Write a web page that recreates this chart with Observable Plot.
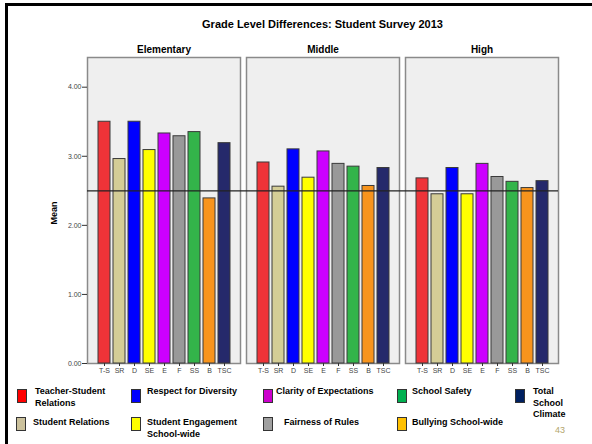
<!DOCTYPE html>
<html>
<head>
<meta charset="utf-8">
<script src="https://cdn.jsdelivr.net/npm/d3@7"></script>
<script src="https://cdn.jsdelivr.net/npm/@observablehq/plot@0.6"></script>
<style>
  html, body { margin: 0; padding: 0; background: #fff; }
  #slide { position: relative; width: 592px; height: 444px; overflow: hidden; background: #fff;
           font-family: "Liberation Sans", Arial, sans-serif; color: #000; }
  #frame { position: absolute; left: 5px; top: 3px; right: 0; bottom: 0;
           border-top: 3px solid #000; border-left: 3px solid #000; }
  #chart { position: absolute; left: 0; top: 0; }
  .abs { position: absolute; white-space: nowrap; }
  #title { left: 0; width: 645px; top: 18px; text-align: center; font-weight: bold; font-size: 11px; }
  #ylabel { left: 54px; top: 213px; transform: translate(-50%, -50%) rotate(-90deg);
            font-weight: bold; font-size: 9px; }
  .sw { position: absolute; width: 10px; height: 14px; box-sizing: border-box; border: 1px solid #333; }
  .lt { position: absolute; font-weight: bold; font-size: 9px; line-height: 11.5px; white-space: nowrap; }
  #page { left: 555px; top: 425px; font-size: 9px; color: #b3a66c; }
</style>
</head>
<body>
<div id="slide">
  <div id="frame"></div>
  <div id="chart"></div>
  <div id="title" class="abs">Grade Level Differences: Student Survey 2013</div>
  <div id="ylabel" class="abs">Mean</div>
  <div id="legend"></div>
  <div id="page" class="abs">43</div>
</div>
<script>
// School levels (panels) and survey scale codes (bars within each panel)
const levels = ["Elementary", "Middle", "High"];
const codes = ["T-S", "SR", "D", "SE", "E", "F", "SS", "B", "TSC"];

// Mean scores per scale, in the order of `codes`
const elementary = [3.50, 2.96, 3.50, 3.09, 3.33, 3.29, 3.35, 2.39, 3.19];
const middle     = [2.91, 2.56, 3.10, 2.69, 3.07, 2.89, 2.85, 2.57, 2.83];
const high       = [2.68, 2.45, 2.83, 2.45, 2.89, 2.70, 2.63, 2.54, 2.64];

// Benchmark line drawn across all panels
const benchmark = 2.5;

// Y axis ticks
const yTicks = [0, 1, 2, 3, 4];

// Bar fill per scale
const barColors = ["#ee3338", "#d4cd96", "#0000ff", "#ffff00", "#cc00ff",
                   "#999999", "#33b44a", "#f7941d", "#25296b"];

// Legend: full scale names and swatch colours, in legend reading order
const legendNames = ["Teacher-Student\nRelations", "Respect for Diversity", "Clarity of Expectations",
                     "School Safety", "Total\nSchool\nClimate",
                     "Student Relations", "Student Engagement\nSchool-wide", "Fairness of Rules",
                     "Bullying School-wide"];
const legendColors = ["#ff0000", "#0000ff", "#cc00cc", "#00b050", "#002060",
                      "#cbc19c", "#ffff00", "#a0a0a0", "#ffc000"];

const series = {Elementary: elementary, Middle: middle, High: high};
const rows = levels.flatMap(level =>
  codes.map((code, i) => ({level, code, value: series[level][i]})));

// Benchmark segments, slightly widened so the line bridges the gaps between panels
const ruleFor = (level, opts) =>
  Plot.ruleY([{level, v: benchmark}], {fx: "level", y: "v", stroke: "#222", strokeWidth: 1.2, ...opts});

const chart = Plot.plot({
  width: 592,
  height: 380,
  marginTop: 57,
  marginBottom: 17,
  marginLeft: 87,
  marginRight: 34,
  style: {fontFamily: "'Liberation Sans', Arial, sans-serif", background: "transparent", color: "#333", overflow: "visible"},
  fx: {domain: levels, paddingInner: 0.038, paddingOuter: 0, label: null},
  x: {domain: codes, paddingInner: 0.216, paddingOuter: 0.608, label: null},
  y: {domain: [0, 4.43], label: null},
  color: {domain: codes, range: barColors},
  marks: [
    Plot.frame({fill: "#efefef", stroke: "#8a8a8a", strokeWidth: 1.5}),
    Plot.barY(rows, {fx: "level", x: "code", y: "value", fill: "code", stroke: "#3a3a3a", strokeWidth: 1}),
    ruleFor("Elementary", {insetRight: -3}),
    ruleFor("Middle", {insetLeft: -3, insetRight: -3}),
    ruleFor("High", {insetLeft: -3}),
    Plot.axisFx({anchor: "top", tickSize: 0, tickPadding: 5, fontSize: 10, fontWeight: "bold", fill: "#000", label: null}),
    Plot.axisX({tickSize: 3, tickPadding: 2, fontSize: 7, fill: "#444", label: null}),
    Plot.axisY({ticks: yTicks, tickFormat: d3.format(".2f"), tickSize: 5, tickPadding: 1, fontSize: 7, fill: "#444", label: null})
  ]
});
document.getElementById("chart").appendChild(chart);

// Legend layout: swatch left, text left, row for each entry
const slots = [
  [17, 35, 0], [131, 147, 0], [263, 276, 0], [397, 412, 0], [515, 533, 0],
  [16, 33, 1], [131, 147, 1], [263, 284, 1], [397, 412, 1]
];
const legend = document.getElementById("legend");
legendNames.forEach((name, i) => {
  const [sx, tx, row] = slots[i];
  const sw = document.createElement("div");
  sw.className = "sw";
  sw.style.left = sx + "px";
  sw.style.top = (row ? 417 : 389) + "px";
  sw.style.background = legendColors[i];
  legend.appendChild(sw);
  const t = document.createElement("div");
  t.className = "lt";
  t.style.left = tx + "px";
  t.style.top = (row ? 417 : 386) + "px";
  t.innerHTML = name.split("\n").join("<br>");
  legend.appendChild(t);
});
</script>
</body>
</html>
